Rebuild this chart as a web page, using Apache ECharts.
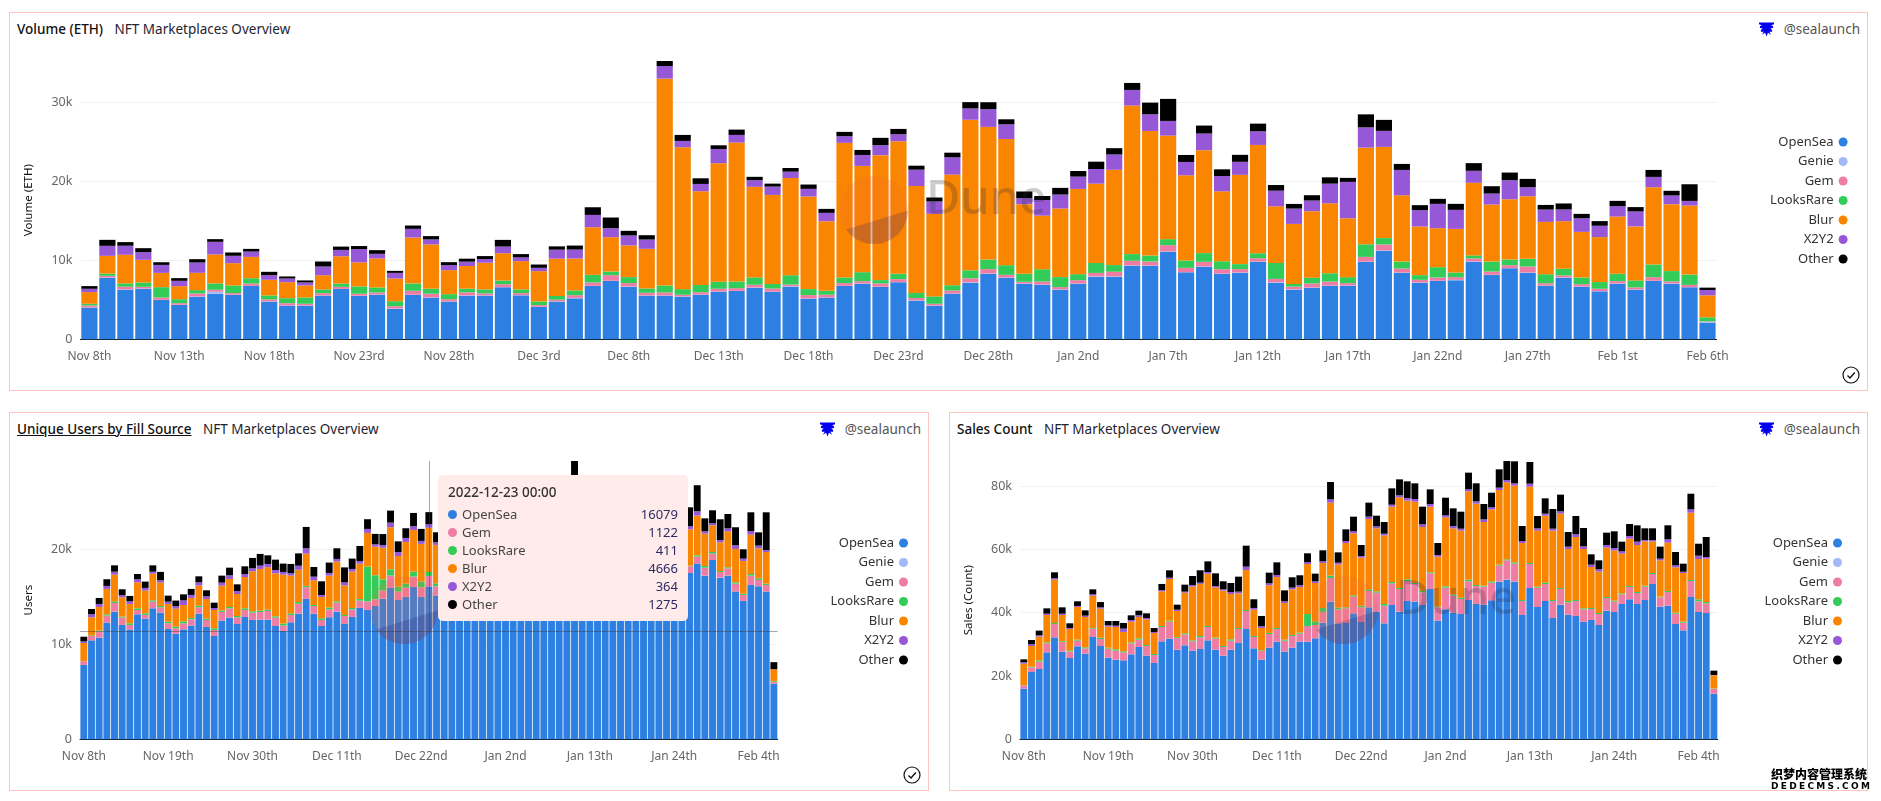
<!DOCTYPE html>
<html><head><meta charset="utf-8">
<script src="https://cdn.jsdelivr.net/npm/echarts@6/dist/echarts.min.js"></script>
<style>
html,body{margin:0;padding:0;background:#fff;width:1881px;height:801px;overflow:hidden;font-family:"Noto Sans",sans-serif}
#c{position:absolute;left:0;top:0;width:1881px;height:801px}
.p{position:absolute;box-sizing:border-box;border:1px solid #ffc4c1;height:379px}
.t{position:absolute;top:0;left:7px;height:32px;line-height:32px;font-size:13.5px;color:#1f2430;white-space:nowrap}
.t b{font-weight:500;color:#111;margin-right:8px}
.t b.u{text-decoration:underline}
.a{position:absolute;top:0;right:7px;height:32px;line-height:32px;font-size:13.5px;color:#555;white-space:nowrap}
.a svg{position:absolute;left:-25px;top:9px}
.ck{position:absolute;width:18px;height:18px}
.wm{position:absolute;left:1771px;top:767px;width:100px;font-family:"Noto Sans CJK SC";font-weight:900;color:#000;text-shadow:0 0 1px #fff,1px 1px 0 #fff,-1px -1px 0 #fff;white-space:nowrap;z-index:9}
</style></head><body>
<div class="p" style="left:9px;top:12px;width:1859px"><div class="t"><b>Volume (ETH)</b> NFT Marketplaces Overview</div>
 <div class="a"><svg width="15" height="15" viewBox="0 0 16 15"><path fill="#0000ee" d="M0 0H16V2L13 3 15 4V6L12 6.5 14 8V10L11 10 13 13 9.5 11 8 15 6.5 11 3 13 5 10 2 10V8L4 6.5 1 6V4L3 3 0 2Z"/></svg>@sealaunch</div></div>
<div class="p" style="left:9px;top:412px;width:920px"><div class="t"><b class="u">Unique Users by Fill Source</b> NFT Marketplaces Overview</div>
 <div class="a"><svg width="15" height="15" viewBox="0 0 16 15"><path fill="#0000ee" d="M0 0H16V2L13 3 15 4V6L12 6.5 14 8V10L11 10 13 13 9.5 11 8 15 6.5 11 3 13 5 10 2 10V8L4 6.5 1 6V4L3 3 0 2Z"/></svg>@sealaunch</div></div>
<div class="p" style="left:949px;top:412px;width:919px"><div class="t"><b>Sales Count</b> NFT Marketplaces Overview</div>
 <div class="a"><svg width="15" height="15" viewBox="0 0 16 15"><path fill="#0000ee" d="M0 0H16V2L13 3 15 4V6L12 6.5 14 8V10L11 10 13 13 9.5 11 8 15 6.5 11 3 13 5 10 2 10V8L4 6.5 1 6V4L3 3 0 2Z"/></svg>@sealaunch</div></div>
<div id="c"></div>
<svg class="ck" style="left:1842px;top:366px" viewBox="0 0 18 18"><circle cx="9" cy="9" r="8" fill="none" stroke="#111" stroke-width="1.2"/><path d="M5.5 9.5l2.5 2.5L12.8 6.5" fill="none" stroke="#111" stroke-width="1.4"/></svg>
<svg class="ck" style="left:903px;top:766px" viewBox="0 0 18 18"><circle cx="9" cy="9" r="8" fill="none" stroke="#111" stroke-width="1.2"/><path d="M5.5 9.5l2.5 2.5L12.8 6.5" fill="none" stroke="#111" stroke-width="1.4"/></svg>
<div class="wm"><div style="font-size:12px;line-height:14px">织梦内容管理系统</div><div style="font-family:'DejaVu Sans';font-weight:700;font-size:9px;letter-spacing:2.3px;line-height:11px;margin-top:0">DEDECMS.COM</div></div>
<script>
const marketNames=['OpenSea','Genie','Gem','LooksRare','Blur','X2Y2','Other'];
const marketColors=['#2d80e2','#a3b9f7','#ef7ca3','#33cc58','#f98500','#9758d8','#000000'];
const dayLabels=['Nov 8th','Nov 9th','Nov 10th','Nov 11th','Nov 12th','Nov 13th','Nov 14th','Nov 15th','Nov 16th','Nov 17th','Nov 18th','Nov 19th','Nov 20th','Nov 21st','Nov 22nd','Nov 23rd','Nov 24th','Nov 25th','Nov 26th','Nov 27th','Nov 28th','Nov 29th','Nov 30th','Dec 1st','Dec 2nd','Dec 3rd','Dec 4th','Dec 5th','Dec 6th','Dec 7th','Dec 8th','Dec 9th','Dec 10th','Dec 11th','Dec 12th','Dec 13th','Dec 14th','Dec 15th','Dec 16th','Dec 17th','Dec 18th','Dec 19th','Dec 20th','Dec 21st','Dec 22nd','Dec 23rd','Dec 24th','Dec 25th','Dec 26th','Dec 27th','Dec 28th','Dec 29th','Dec 30th','Dec 31st','Jan 1st','Jan 2nd','Jan 3rd','Jan 4th','Jan 5th','Jan 6th','Jan 7th','Jan 8th','Jan 9th','Jan 10th','Jan 11th','Jan 12th','Jan 13th','Jan 14th','Jan 15th','Jan 16th','Jan 17th','Jan 18th','Jan 19th','Jan 20th','Jan 21st','Jan 22nd','Jan 23rd','Jan 24th','Jan 25th','Jan 26th','Jan 27th','Jan 28th','Jan 29th','Jan 30th','Jan 31st','Feb 1st','Feb 2nd','Feb 3rd','Feb 4th','Feb 5th','Feb 6th'];

// Volume (ETH)
const volOpenSea=[4010,7810,6290,6410,4980,4350,5400,5780,5610,6750,4770,4260,4260,5530,6370,5490,5650,3840,5610,5280,4770,5530,5530,6580,5570,4090,4770,5190,6750,7390,6670,5530,5530,5400,5650,6030,6120,6540,6030,6670,5150,5280,6750,7050,6630,7220,4900,4260,5780,7170,8310,7810,7050,6920,6290,7050,7930,7930,9330,9330,11100,8480,9200,8310,8440,9830,7170,6290,6540,6790,6790,9830,11230,8440,7170,7390,7470,9830,8140,8990,8440,6790,7810,6670,6080,7050,6290,7390,7050,6580,2110];
const volGenie=[30,20,30,30,20,20,30,250,30,20,30,20,30,20,20,30,30,60,30,30,20,40,30,20,30,30,40,60,30,20,30,20,20,30,20,30,20,30,20,60,30,20,30,20,30,20,40,30,20,60,30,20,30,20,30,20,60,40,30,20,30,20,30,20,30,20,60,50,30,20,30,20,30,20,30,20,60,40,30,20,30,20,30,20,30,20,30,20,30,20,100];
const volGem=[250,210,340,210,295,210,380,250,210,295,255,295,210,295,255,255,255,295,505,465,295,380,255,380,255,210,210,340,420,715,420,340,380,210,295,340,340,340,380,210,420,340,340,295,420,380,295,210,380,505,550,340,210,380,295,420,420,590,590,505,800,550,590,550,420,420,420,340,505,505,295,590,760,505,340,420,340,380,420,380,760,295,255,295,295,295,255,465,255,295,70];
const volLooksRare=[210,295,420,550,1310,505,420,800,970,675,505,635,800,465,420,930,635,635,930,635,635,465,505,465,465,465,465,590,970,465,760,550,885,715,930,885,845,930,590,1180,760,505,715,1140,420,675,635,930,675,1010,1220,1220,1010,1560,1265,760,1265,845,845,760,760,930,1100,1010,635,635,2030,340,715,1055,760,1600,800,885,590,1310,590,380,1265,715,970,1140,845,845,845,930,885,1600,1310,1310,505];
const volBlur=[1480,2240,3630,2870,1810,1650,2190,3670,2830,2700,1980,2030,1520,1810,3460,3040,3670,2870,5820,5610,3040,2870,3380,3460,3590,3840,4730,4050,6030,4350,4010,5020,26210,17980,11860,15020,17600,11480,11270,12320,11730,8820,17050,13460,15830,16800,13550,10470,14010,19070,16800,15990,8820,6790,8690,10800,10040,12070,18820,15780,13120,10800,13040,8860,11310,13720,7170,7600,8440,8860,7470,12240,11560,8400,6160,4940,5530,9200,7220,7640,7930,6630,6030,5780,5700,7260,6840,9790,8480,8740,2790];
const volX2Y2=[420,1265,1140,970,1010,675,1310,1600,930,675,590,465,380,1100,800,1690,590,715,1100,635,635,550,465,845,465,420,1140,1140,1560,1140,1265,1180,1600,800,930,1810,970,845,1055,800,970,1055,845,1390,1265,885,2070,1560,2190,1435,2240,1860,760,1980,1770,1560,1860,1940,1980,2110,1860,1690,2110,1940,1650,1730,1980,1940,1350,2490,4600,2570,2030,3210,2070,3080,2410,1520,1390,2410,1140,1560,1480,1730,1435,1310,1900,1310,1100,590,675];
const volOther=[340,760,465,505,340,340,420,340,420,340,420,255,255,635,420,380,465,255,420,420,380,380,380,845,420,420,420,505,970,1350,590,550,635,760,715,465,675,420,380,465,550,505,550,635,930,675,505,505,590,800,885,635,845,505,845,715,930,800,885,1480,2790,885,1010,845,885,970,715,590,675,800,505,1650,1390,760,635,635,760,970,930,970,1055,590,760,550,590,675,550,885,590,2110,295];

// Unique users
const usersOpenSea=[7830,10420,10710,12290,13440,12040,11550,13160,12710,13790,13340,11620,11130,11580,11970,13230,11830,10880,12500,12810,12140,12880,12570,12600,12600,11930,11410,12320,13230,14780,13230,11930,12850,13440,12140,12880,13830,13620,14040,14810,15940,14670,14990,16040,14990,16079,15130,14900,15500,16000,15600,16200,15800,16400,16900,16500,17100,17300,16800,17200,17700,17300,18100,17600,18300,17800,17400,17900,17300,17800,17200,16900,17500,16800,17100,17600,17200,17800,17300,17510,18500,17230,18880,17020,17230,15550,14570,16250,16110,15550,5860];
const usersGenie=[];
const usersGem=[385,455,630,735,910,770,490,455,385,700,560,595,560,630,665,665,735,630,910,980,700,735,770,805,910,875,560,770,1050,1230,805,630,840,950,840,805,770,910,700,840,1300,875,980,1090,1020,1122,980,1050,1100,980,1200,1150,1080,1240,1010,1190,1120,1260,1070,1180,1300,1140,1330,1210,1390,1160,1090,1220,1040,1130,1000,950,1060,880,930,1020,860,900,840,700,735,840,665,595,770,840,630,980,665,700,210];
const usersLooksRare=[20,70,105,140,175,105,175,175,175,140,140,175,175,210,140,175,140,175,140,140,140,175,140,140,140,140,210,175,175,140,105,175,175,140,105,140,175,3650,2530,1190,665,525,420,525,595,411,315,180,140,210,160,130,190,150,120,170,140,200,130,160,120,150,180,140,160,120,150,110,130,140,100,120,110,130,90,120,100,110,90,70,140,175,175,105,105,140,140,175,175,140,70];
const usersBlur=[1900,1900,2490,2670,2810,2040,2040,2740,2390,2810,2460,1860,1900,1720,2110,2110,2070,1930,2630,2950,2320,3300,4210,4390,4460,4530,5160,3970,3400,3400,2600,2250,3370,4180,3120,3830,3720,3550,3020,3330,4420,3230,4390,4390,3970,4666,4040,4600,5100,4300,5400,4900,5700,4500,5200,5800,4700,5300,6100,5000,5500,4800,6300,5400,6500,5100,4600,5200,4900,4400,5000,4700,3900,4500,4200,3800,4300,3600,3900,3830,4180,3400,2810,3020,3790,3510,3440,4140,3160,3330,1230];
const usersX2Y2=[175,315,315,315,315,210,280,315,280,210,245,245,245,490,315,350,280,210,315,385,315,315,315,350,350,350,280,245,420,560,385,210,280,280,315,280,280,420,245,280,490,420,420,385,315,364,280,330,290,360,310,280,340,300,370,290,320,350,280,330,360,300,350,310,450,340,290,360,300,320,280,310,260,330,270,290,310,280,300,315,455,245,210,245,315,385,245,385,280,210,10];
const usersOther=[490,560,630,700,665,630,560,560,665,665,880,630,595,630,630,630,630,560,735,805,700,805,1090,1230,910,1090,880,980,1300,2250,1020,1440,1090,1120,1580,1090,1580,1020,1090,1160,1260,1120,1020,1400,1260,1275,1050,1200,1050,1400,1150,1350,1280,1100,1500,1250,1380,1450,1180,1320,1600,1220,1540,1400,2500,1350,1200,1480,1100,1420,1250,1180,1350,1050,1280,1150,1400,1220,1300,2000,2740,1370,1370,2180,1510,1900,980,1970,1400,3970,740];

// Sales count
const salesOpenSea=[16000,21270,22220,27480,32220,27690,25690,29380,27060,32330,29480,25800,25170,24960,26850,29170,26430,24110,30960,31800,28330,29690,28010,28540,31270,28330,26430,28330,30430,34850,28750,25170,28960,30850,27690,28960,30850,30850,31910,36860,43490,36640,36750,39800,37070,41700,40330,36640,42440,40330,43700,43490,42440,47490,37490,41070,40010,39590,44020,42750,42540,43910,49810,50440,49810,39280,47810,41800,43700,38330,42540,39380,38960,37170,37700,36120,40650,40220,42750,44230,42750,44020,49070,41910,42230,36430,34430,44960,40220,39910,14430];
const salesGenie=[];
const salesGem=[1050,1470,2320,2840,4210,3160,2110,1790,1680,2630,2210,2840,2840,2530,3470,2320,3050,2530,4530,5370,3790,3470,2950,3690,4210,3470,2740,2840,4420,5690,3580,2740,4320,4000,3470,3690,2530,4950,4210,3370,7480,4420,4630,5270,4630,5160,6000,5580,6840,7160,6320,5580,4000,4950,4210,6840,5370,4740,5900,5690,5690,5580,5050,6110,5690,4420,7580,6110,5370,5370,4950,3900,4740,3900,3470,3470,4000,3260,3050,3900,3470,4210,3160,2950,4320,3260,2420,5050,3370,3050,1580];
const salesLooksRare=[100,210,420,320,320,210,320,320,320,210,420,320,420,320,320,420,320,320,320,320,210,320,320,420,320,320,320,420,320,320,320,210,320,320,320,320,320,3790,1160,1260,740,530,320,420,530,530,420,530,420,320,530,320,420,320,210,420,320,420,530,320,320,420,320,320,420,320,320,320,420,320,320,420,320,320,320,320,320,320,320,320,320,320,320,210,320,320,320,320,630,420,100];
const salesBlur=[6740,6530,7480,8630,13690,8210,6740,10320,9580,10210,9160,6630,7060,6110,6530,6740,8110,6630,10950,13160,8210,12850,16950,16430,16530,15900,17480,14320,10950,12640,8320,7060,15060,16110,11580,14430,14430,15800,12110,14220,23060,13690,20320,19590,15160,22220,19900,21690,23800,28640,24850,25690,20220,20740,15800,21800,20950,21170,27900,25690,20110,22740,23590,24320,24220,18010,24110,17690,21170,21900,23480,16430,19900,18740,12950,13060,15580,15900,12530,14950,14850,14000,10000,11480,15270,14320,15370,21270,12740,13690,4110];
const salesX2Y2=[420,530,420,420,420,420,320,320,420,420,420,420,420,1050,530,530,420,320,420,420,420,320,530,420,530,420,420,630,530,1050,530,530,630,630,530,530,530,630,530,530,1050,530,630,630,530,740,630,530,630,630,840,840,840,840,530,630,740,630,630,740,840,630,740,740,740,630,950,740,630,630,740,740,840,840,740,740,840,740,740,840,1050,420,420,530,1050,630,420,1050,1050,530,100];
const salesOther=[950,1370,1470,1680,1900,2000,1470,1470,1680,1580,1680,1370,1470,1790,1470,1470,1470,1260,1900,2320,1580,2210,2840,3900,3370,4000,2530,2840,4740,6630,2740,3260,3370,4000,3470,3260,3160,2740,2420,3470,5480,3260,3690,4630,3470,4420,3370,3690,5160,5050,5270,4950,5580,4630,3790,5580,5580,5370,5270,5690,4840,4630,5790,6000,6950,4740,6840,3900,4840,6210,5270,4630,5790,5790,3260,2840,3900,5270,3050,3790,5160,3690,3690,3790,4420,4210,2530,4950,3790,6320,1370];

const tipTitle='2022-12-23 00:00';

const panels=[
 {grid:{left:80.4,right:164.5,top:61,height:278.3},name:'Volume (ETH)',nameX:28,step:10000,labelEvery:4,legendRight:28.4,legendTop:130.5,
  data:[volOpenSea,volGenie,volGem,volLooksRare,volBlur,volX2Y2,volOther],logo:[874,210]},
 {grid:{left:80,width:697.7,top:461,height:278.3},name:'Users',nameX:28,step:10000,labelEvery:10,legendRight:968,legendTop:531.5,
  data:[usersOpenSea,usersGenie,usersGem,usersLooksRare,usersBlur,usersX2Y2,usersOther],logo:[404,610]},
 {grid:{left:1020,width:697.7,top:461,height:278.3},name:'Sales (Count)',nameX:968,step:20000,labelEvery:10,legendRight:34,legendTop:531.5,
  data:[salesOpenSea,salesGenie,salesGem,salesLooksRare,salesBlur,salesX2Y2,salesOther],logo:[1344,610]}
];
const font='"Noto Sans",sans-serif';
const fmtK=v=>v===0?'0':(v/1000)+'k';
const grids=[],xs=[],ys=[],legends=[],series=[],graphics=[];
panels.forEach((p,i)=>{
 grids.push(p.grid);
 xs.push({type:'category',gridIndex:i,data:dayLabels,
  axisTick:{show:false},axisLine:{show:true,lineStyle:{color:'#111',width:1}},
  axisLabel:{interval:p.labelEvery,color:'#666',fontFamily:font,fontSize:12,margin:11,hideOverlap:false},
  splitLine:{show:false}});
 ys.push({type:'value',gridIndex:i,min:0,max:'dataMax',interval:p.step,name:p.name,nameLocation:'middle',
  nameGap:p.grid.left-p.nameX-7,nameTextStyle:{color:'#111',fontFamily:font,fontSize:11.5},
  axisLine:{show:false},axisTick:{show:false},
  axisLabel:{color:'#666',fontFamily:font,fontSize:12.5,margin:8,formatter:fmtK,showMaxLabel:false},
  splitLine:{show:true,showMaxLine:false,lineStyle:{color:'#f2f2f2',width:1}}});
 legends.push({orient:'vertical',align:'right',right:p.legendRight,top:p.legendTop,icon:'circle',
  itemWidth:9,itemHeight:9,itemGap:6.5,selectedMode:false,data:marketNames,
  textStyle:{color:'#333',fontFamily:font,fontSize:13,padding:[0,0,0,0]}});
 marketNames.forEach((n,k)=>series.push({type:'bar',name:n,xAxisIndex:i,yAxisIndex:i,stack:'s'+i,
  data:p.data[k],barWidth:'90%',itemStyle:{color:marketColors[k]},emphasis:{disabled:true},silent:true}));
 const [cx,cy]=p.logo,r=34;
 graphics.push({type:'circle',z:20,silent:true,shape:{cx,cy,r},style:{fill:'rgba(244,104,60,0.2)'}});
 const pts=[];
 for(let a=145;a>=-1;a-=6){pts.push([cx+r*Math.cos(a*Math.PI/180),cy+r*Math.sin(a*Math.PI/180)]);}
 graphics.push({type:'polygon',z:20,silent:true,shape:{points:pts},style:{fill:'rgba(24,24,110,0.2)'}});
 graphics.push({type:'text',z:20,silent:true,x:cx+52,y:cy-33,style:{text:'Dune',font:'500 47px "Noto Sans"',fill:'rgba(40,40,60,0.24)'}});
});
const chart=echarts.init(document.getElementById('c'));
chart.setOption({
 animation:false,grid:grids,xAxis:xs,yAxis:ys,legend:legends,series,graphic:graphics,
 tooltip:{trigger:'axis',showContent:true,alwaysShowContent:true,transitionDuration:0,
  axisPointer:{type:'cross',label:{show:false},lineStyle:{color:'rgba(60,60,60,0.45)',width:1,type:'solid'},crossStyle:{color:'rgba(60,60,60,0.45)',width:1,type:'solid'}},
  backgroundColor:'#ffecea',borderWidth:0,padding:[8,10,18,10],extraCssText:'box-shadow:none;border-radius:5px;width:230px;height:120px;',
  position:()=>[438,475],
  formatter:ps=>{
   let h='<div style="font:500 13.5px/18px '+font.replace(/"/g,"'")+';color:#333;margin-bottom:4px">'+tipTitle+'</div>';
   ps.filter(q=>q.value!=null).forEach(q=>{h+='<div style="display:flex;align-items:center;height:18px;font:13px/18px '+font.replace(/"/g,"'")+'"><span style="width:9px;height:9px;border-radius:50%;background:'+q.color+';margin-right:5px"></span><span style="color:#444;flex:1">'+q.seriesName+'</span><span style="color:#2b2a66">'+q.value+'</span></div>';});
   return h;}
 }
});
chart.dispatchAction({type:'showTip',x:429,y:631});
setTimeout(()=>chart.dispatchAction({type:'showTip',x:429,y:631}),50);
</script>
</body></html>
